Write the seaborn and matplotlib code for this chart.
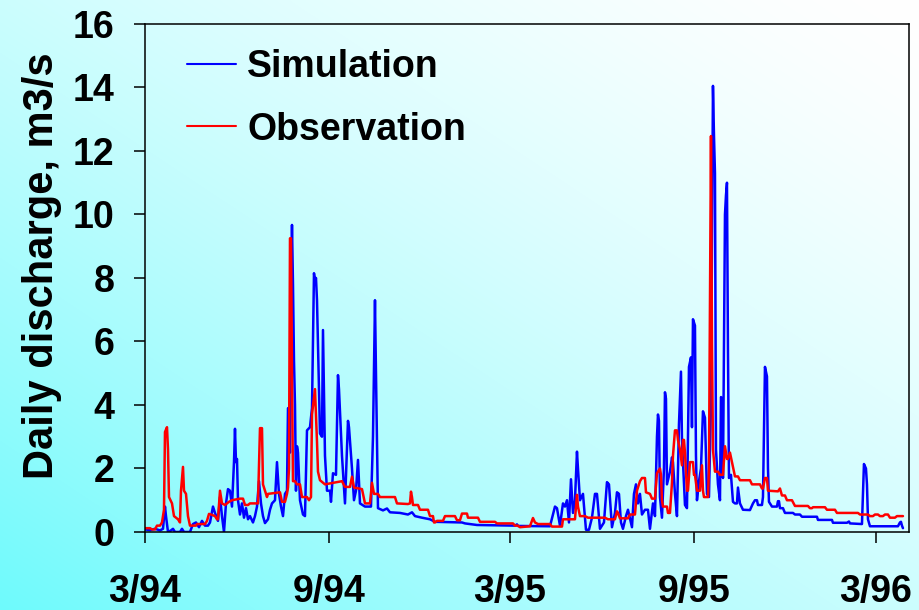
import numpy as np
import pandas as pd
import matplotlib
matplotlib.use("Agg")
import matplotlib.pyplot as plt
import seaborn as sns

# ---------------- data ----------------
start_date = "1994-03-01"

sim_day = [0, 5, 10, 15, 18, 20, 21, 23, 26, 28, 30, 35, 37, 39, 45, 48, 51, 54, 57, 60,
           63, 65, 68, 70, 73, 75, 77, 79, 81, 83, 85, 87, 89, 90, 91, 92, 93, 95, 97, 99,
           101, 103, 105, 108, 110, 112, 114, 116, 118, 120, 123, 125, 127, 130, 132, 134, 136, 138, 140, 142,
           143, 145, 146, 147, 148, 149, 150, 151, 152, 153, 155, 158, 160, 162, 165, 167, 169, 170, 171, 172,
           174, 175, 177, 178, 180, 182, 185, 186, 188, 191, 193, 194, 197, 200, 203, 204, 207, 209, 211, 213,
           215, 220, 226, 228, 230, 231, 233, 238, 242, 245, 255, 263, 267, 270, 277, 285, 290, 317, 320, 332,
           370, 372, 373, 405, 410, 412, 415, 418, 420, 422, 424, 426, 428, 430, 432, 433, 435, 438, 441, 444,
           447, 450, 452, 455, 459, 462, 464, 467, 470, 472, 474, 476, 478, 481, 483, 487, 489, 491, 493, 495,
           497, 500, 503, 505, 508, 510, 512, 513, 514, 515, 517, 519, 520, 521, 522, 525, 527, 528, 530, 532,
           534, 536, 537, 540, 542, 544, 546, 547, 548, 550, 551, 552, 554, 556, 558, 560, 562, 564, 566, 568,
           569, 570, 571, 573, 575, 576, 577, 578, 580, 581, 582, 583, 584, 586, 588, 590, 592, 593, 595, 598,
           605, 608, 610, 612, 613, 617, 618, 620, 622, 623, 624, 627, 632, 633, 634, 635, 638, 640, 648, 650,
           655, 657, 672, 673, 687, 688, 702, 704, 705, 717, 718, 719, 721, 722, 723, 725, 753, 755, 756, 757,
           758]
sim_q = [0.08, 0.06, 0.1, 0.05, 0.1, 0.8, 0.5, 0.0, 0.05, 0.1, 0.0, 0.0, 0.1, 0.0, 0.0, 0.25, 0.3, 0.15, 0.35, 0.2,
         0.2, 0.3, 0.8, 0.6, 0.35, 1.1, 0.5, 0.0, 0.9, 1.35, 1.3, 0.8, 2.2, 3.25, 2.2, 2.3, 1.0, 0.55, 0.9, 0.45,
         0.75, 0.4, 0.5, 0.3, 0.5, 0.8, 1.6, 0.9, 0.5, 0.28, 0.4, 0.7, 0.9, 1.0, 2.2, 1.2, 0.8, 0.5, 1.2, 1.3,
         3.9, 2.5, 7.5, 9.67, 7.8, 5.4, 4.0, 1.3, 2.7, 2.5, 1.0, 0.55, 0.5, 3.2, 3.3, 3.9, 8.15, 7.9, 8.0, 7.3,
         4.5, 3.1, 3.0, 6.36, 2.4, 1.3, 1.3, 0.95, 1.85, 1.8, 4.94, 4.5, 2.4, 0.9, 3.5, 3.3, 2.0, 1.0, 1.3, 2.27,
         0.9, 0.8, 0.8, 3.0, 7.3, 5.0, 0.75, 0.68, 0.74, 0.62, 0.6, 0.55, 0.62, 0.5, 0.45, 0.4, 0.32, 0.3, 0.27, 0.22,
         0.2, 0.24, 0.19, 0.18, 0.8, 0.75, 0.2, 0.9, 0.8, 1.0, 0.3, 1.66, 0.6, 1.0, 2.53, 2.0, 1.0, 1.2, 0.07, 0.07,
         0.45, 1.2, 1.2, 0.1, 0.3, 1.57, 1.5, 0.15, 0.6, 1.25, 1.2, 0.3, 0.1, 0.5, 0.7, 0.15, 1.2, 1.5, 0.9, 1.2,
         0.55, 0.7, 0.7, 0.1, 0.9, 0.5, 3.0, 3.7, 3.5, 1.1, 0.45, 2.0, 4.4, 4.2, 1.5, 1.9, 2.35, 2.2, 1.2, 0.5,
         3.4, 5.05, 2.9, 0.85, 0.75, 5.2, 5.5, 3.3, 6.7, 6.5, 2.4, 1.0, 1.6, 2.0, 3.8, 3.6, 1.2, 1.1, 4.0, 14.05,
         12.5, 11.3, 2.6, 1.5, 1.0, 4.25, 4.2, 1.7, 10.0, 10.6, 11.0, 5.7, 1.7, 1.8, 0.95, 0.9, 0.9, 1.4, 0.9, 0.7,
         0.69, 0.9, 1.0, 1.0, 0.85, 0.85, 1.1, 5.2, 4.9, 2.0, 0.95, 0.8, 0.8, 0.97, 0.97, 0.75, 0.75, 0.6, 0.6, 0.55,
         0.55, 0.48, 0.48, 0.38, 0.38, 0.29, 0.29, 0.33, 0.27, 0.25, 1.2, 2.14, 2.0, 1.5, 0.4, 0.18, 0.18, 0.3, 0.32, 0.2,
         0.12]

obs_day = [0, 5, 7, 10, 12, 15, 17, 19, 20, 22, 23, 24, 27, 29, 33, 35, 36, 38, 39, 41,
           43, 45, 51, 52, 60, 62, 64, 66, 70, 72, 73, 75, 77, 80, 82, 84, 87, 95, 98, 100,
           103, 105, 113, 115, 117, 118, 120, 122, 123, 135, 137, 140, 142, 143, 144, 145, 146, 147, 148, 150,
           152, 155, 157, 162, 164, 166, 167, 170, 172, 173, 175, 180, 197, 200, 205, 207, 209, 217, 218, 220,
           225, 227, 229, 233, 235, 250, 252, 263, 265, 266, 267, 268, 273, 275, 283, 285, 288, 289, 290, 292,
           298, 300, 310, 312, 315, 317, 322, 323, 333, 335, 350, 352, 368, 370, 373, 375, 385, 388, 390, 393,
           405, 407, 417, 418, 430, 432, 433, 435, 440, 443, 460, 463, 470, 472, 473, 475, 483, 485, 490, 492,
           495, 497, 500, 501, 505, 507, 510, 512, 515, 516, 517, 518, 522, 523, 525, 527, 528, 530, 532, 533,
           535, 537, 538, 539, 540, 542, 543, 545, 548, 549, 550, 552, 555, 557, 558, 559, 563, 564, 566, 567,
           568, 570, 573, 575, 578, 580, 582, 583, 585, 587, 590, 593, 595, 605, 607, 615, 617, 618, 620, 622,
           623, 633, 635, 637, 640, 642, 647, 650, 663, 665, 667, 668, 680, 682, 690, 692, 713, 715, 723, 725,
           728, 730, 733, 735, 738, 740, 743, 745, 750, 752, 758]
obs_q = [0.12, 0.12, 0.08, 0.08, 0.2, 0.2, 0.3, 0.7, 3.15, 3.3, 2.6, 1.1, 0.9, 0.5, 0.4, 0.3, 1.3, 2.05, 1.3, 1.2,
         0.5, 0.2, 0.2, 0.25, 0.25, 0.35, 0.57, 0.55, 0.5, 0.4, 0.4, 1.3, 0.9, 0.85, 0.9, 0.95, 1.0, 1.05, 1.05, 0.85,
         0.85, 0.9, 0.9, 3.27, 3.27, 1.5, 1.3, 1.1, 1.2, 1.25, 0.95, 0.95, 1.2, 1.4, 2.0, 9.25, 9.25, 5.0, 1.6, 1.6,
         1.5, 1.5, 1.1, 1.1, 1.0, 1.1, 3.7, 4.5, 2.85, 1.9, 1.63, 1.5, 1.6, 1.42, 1.42, 1.74, 1.4, 1.35, 1.2, 0.9,
         0.9, 1.55, 1.2, 1.2, 1.1, 1.1, 0.9, 0.88, 0.9, 1.27, 1.1, 0.85, 0.85, 0.7, 0.7, 0.5, 0.5, 0.3, 0.3, 0.35,
         0.35, 0.5, 0.5, 0.37, 0.37, 0.58, 0.58, 0.45, 0.45, 0.32, 0.32, 0.27, 0.27, 0.2, 0.2, 0.15, 0.18, 0.44, 0.3, 0.25,
         0.25, 0.17, 0.17, 0.4, 0.4, 1.17, 0.8, 0.5, 0.5, 0.45, 0.45, 0.4, 0.4, 0.65, 0.6, 0.43, 0.43, 0.55, 0.55, 1.3,
         1.6, 1.7, 1.7, 1.25, 1.2, 1.05, 1.05, 1.85, 2.0, 1.8, 1.0, 0.8, 0.8, 0.6, 0.6, 1.55, 2.4, 3.2, 3.2, 2.9,
         2.6, 2.1, 2.9, 2.9, 2.5, 1.3, 1.3, 2.2, 2.2, 1.8, 1.8, 1.3, 1.3, 2.1, 1.3, 1.1, 1.1, 2.0, 12.47, 5.95,
         2.6, 1.9, 1.9, 1.8, 1.8, 2.7, 2.3, 2.3, 2.5, 2.2, 1.75, 1.75, 1.63, 1.63, 1.5, 1.5, 1.37, 1.37, 1.7, 1.7,
         1.3, 1.28, 1.37, 1.15, 1.15, 1.0, 1.0, 0.82, 0.82, 0.75, 0.75, 0.78, 0.78, 0.7, 0.7, 0.6, 0.6, 0.55, 0.55, 0.5,
         0.5, 0.55, 0.55, 0.5, 0.5, 0.55, 0.55, 0.45, 0.45, 0.5, 0.5]

series_names = ["Simulation", "Observation"]
series_colors = ["#0000FF", "#FF0000"]
tick_dates = ["1994-03-01", "1994-09-01", "1995-03-01", "1995-09-01", "1996-03-01"]
tick_labels = ["3/94", "9/94", "3/95", "9/95", "3/96"]
y_ticks = [0, 2, 4, 6, 8, 10, 12, 14, 16]
y_label = "Daily discharge, m3/s"

# ---------------- build table ----------------
t0 = pd.Timestamp(start_date)
df = pd.concat([
    pd.DataFrame({"date": t0 + pd.to_timedelta(sim_day, unit="D"), "q": sim_q, "series": series_names[0]}),
    pd.DataFrame({"date": t0 + pd.to_timedelta(obs_day, unit="D"), "q": obs_q, "series": series_names[1]}),
], ignore_index=True)

sns.set_theme(style="ticks")
plt.rcParams["font.family"] = ["Liberation Sans", "DejaVu Sans"]
plt.rcParams["font.weight"] = "bold"
plt.rcParams["text.color"] = "black"
plt.rcParams["axes.labelcolor"] = "black"
plt.rcParams["xtick.color"] = "black"
plt.rcParams["ytick.color"] = "black"

fig = plt.figure(figsize=(9.2, 6.1), dpi=100)

# background gradient (cyan bottom-left -> white top-right)
H, W = 305, 460
yy, xx = np.mgrid[0:H, 0:W]
u = xx / (W - 1)
v = 1 - yy / (H - 1)
t = (u + v) / 2
k = (1 - t) ** 1.5
c0 = np.array([110, 250, 252]) / 255.0
img = np.ones((H, W, 3)) - k[..., None] * (1 - c0)[None, None, :]
bg = fig.add_axes([0, 0, 1, 1], zorder=0)
bg.imshow(img, aspect="auto", extent=[0, 1, 0, 1], interpolation="bilinear")
bg.axis("off")

ax = fig.add_axes([0.1576, 0.1279, 0.8304, 0.8328], zorder=1)
ax.patch.set_alpha(0)

sns.lineplot(data=df, x="date", y="q", hue="series", hue_order=series_names,
             palette=dict(zip(series_names, series_colors)), estimator=None,
             linewidth=1.8, ax=ax)

ax.set_xlim(t0, t0 + pd.Timedelta(days=764))
ax.set_ylim(0, 16)
ax.set_yticks(y_ticks)
ax.set_xticks(pd.to_datetime(tick_dates))
ax.set_xticklabels(tick_labels)
ax.minorticks_off()
ax.tick_params(axis="x", direction="out", length=8, width=1.1, pad=22, labelsize=27, colors="black")
ax.tick_params(axis="y", direction="out", length=8, width=1.1, pad=14, labelsize=27, colors="black")
for lab in ax.get_xticklabels() + ax.get_yticklabels():
    lab.set_fontweight("bold")
    lab.set_color("black")
for s in ax.spines.values():
    s.set_visible(True)
    s.set_color("black")
    s.set_linewidth(1.1)

ax.set_xlabel("")
ax.set_ylabel(y_label, fontsize=30, fontweight="bold", color="black")
ax.yaxis.set_label_coords(-0.108, 0.525)

handles, labels = ax.get_legend_handles_labels()
for h in handles:
    h.set_linewidth(1.5)
leg = ax.legend(handles, labels, loc="upper left", bbox_to_anchor=(0.055, 0.95),
                frameon=False, prop={"size": 27, "weight": "bold"}, handlelength=1.3,
                handletextpad=0.3, labelspacing=0.7, borderaxespad=0, borderpad=0)
for txt in leg.get_texts():
    txt.set_color("black")

fig.savefig("out.png", dpi=100)
